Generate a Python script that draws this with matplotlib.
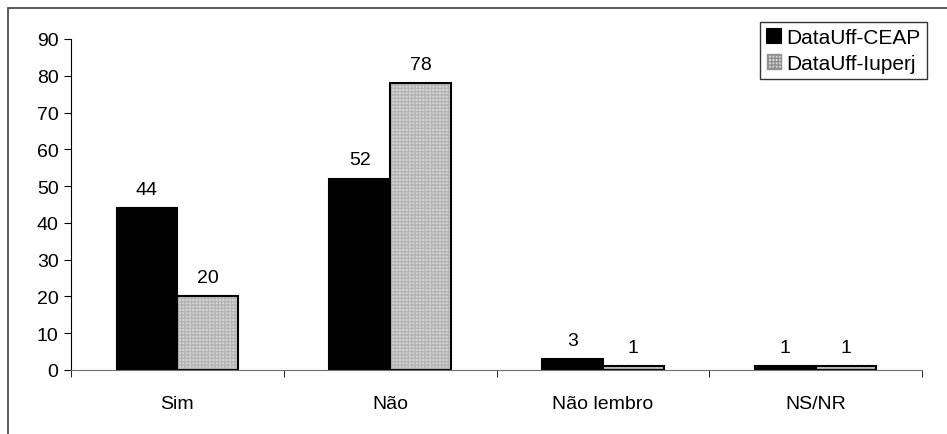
import numpy as np
import matplotlib.pyplot as plt
from matplotlib.patches import Rectangle

plt.rcParams['font.family'] = ['Liberation Sans', 'DejaVu Sans']

categorias = ['Sim', 'Não', 'Não lembro', 'NS/NR']
ceap = [44, 52, 3, 1]
iuperj = [20, 78, 1, 1]

fig = plt.figure(figsize=(9.47, 4.35), dpi=100)
# outer chart frame (runs off the right and bottom edges)
fig.patches.append(Rectangle((8/947, -0.05), 1.0, 1 - 9/435 + 0.05, transform=fig.transFigure,
                             fill=False, edgecolor='#404040', linewidth=1.2))
ax = fig.add_axes([71/947, 1 - 371/435, (922-71)/947, (371-40)/435])

x = np.arange(len(categorias))
w = 1 / 3.5
fs = 14
ax.bar(x - w/2, ceap, w, color='black', edgecolor='black', linewidth=1.5, label='DataUff-CEAP')
ax.bar(x + w/2, iuperj, w, color='#d8d8d8', edgecolor='#b4b4b4', hatch='+++++', linewidth=0)
ax.bar(x + w/2, iuperj, w, fill=False, edgecolor='black', linewidth=1.5)
# legend proxy
ax.bar([0], [0], 0, color='#d8d8d8', edgecolor='#909090', hatch='+++++', label='DataUff-Iuperj')

for xi, v in zip(x - w/2, ceap):
    ax.text(xi, v + 2.8, str(v), ha='center', va='bottom', fontsize=fs)
for xi, v in zip(x + w/2, iuperj):
    ax.text(xi, v + 2.8, str(v), ha='center', va='bottom', fontsize=fs)

ax.set_xlim(-0.5, len(categorias) - 0.5)
ax.set_ylim(0, 90)
ax.set_yticks(range(0, 91, 10))
ax.set_xticks(x)
ax.set_xticklabels(categorias, fontsize=fs)
ax.set_xticks(np.arange(-0.5, len(categorias), 1), minor=True)
ax.tick_params(axis='x', which='major', length=0, pad=18)
ax.tick_params(axis='x', which='minor', length=5, direction='out', color='black')
ax.tick_params(axis='y', length=5, labelsize=fs, pad=4)
for s in ['top', 'right']:
    ax.spines[s].set_visible(False)
ax.spines['bottom'].set_color('#707070')

leg = ax.legend(loc='upper right', bbox_to_anchor=(927/947, 1 - 23/435), bbox_transform=fig.transFigure,
                fontsize=15, frameon=True, fancybox=False, edgecolor='black', handlelength=0.7,
                handleheight=0.7, handletextpad=0.25, borderpad=0.3, labelspacing=0.3, borderaxespad=0)
leg.get_frame().set_linewidth(1)

fig.savefig('out.png', dpi=100)
